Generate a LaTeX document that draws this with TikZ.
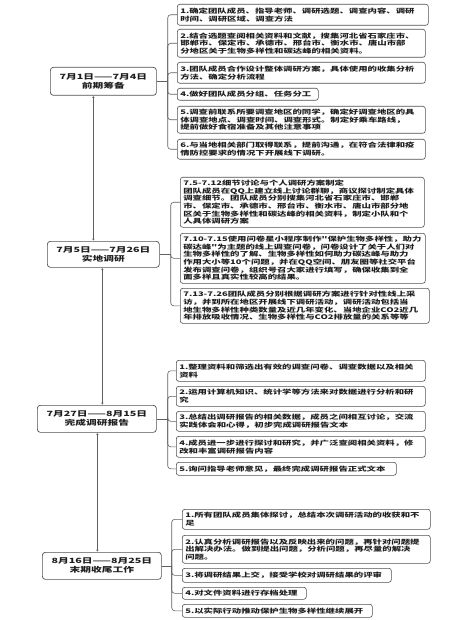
\documentclass[tikz,border=0pt]{standalone}
\usepackage{fontspec}
\newfontfamily\cjk[FakeStretch=1.49]{Noto Sans CJK SC}
\usetikzlibrary{arrows.meta}
\newcommand\itemfont{\cjk\bfseries\fontsize{6.3}{7.7}\selectfont}
\newcommand\stagefont{\cjk\bfseries\fontsize{7.2}{9}\selectfont}
\definecolor{boxc}{HTML}{505050}
\definecolor{linec}{HTML}{606060}
\definecolor{txtc}{HTML}{1E1E1E}
\tikzset{
 itembox/.style={draw=boxc, line width=0.6pt, rounded corners=2.5pt, anchor=north west, inner xsep=3pt, inner ysep=0pt, align=left, font=\itemfont, text=txtc},
 stagebox/.style={draw=boxc, line width=0.7pt, rounded corners=3pt, anchor=north west, inner sep=0pt, align=center, font=\stagefont, text=txtc},
 br/.style={draw=linec, line width=0.6pt, rounded corners=3pt},
 conn/.style={draw=linec, line width=0.7pt, {Stealth[length=1.8pt,width=2.4pt]}-{Stealth[length=1.8pt,width=2.4pt]}, shorten <=0.5pt, shorten >=0.5pt}
}
\begin{document}
\begin{tikzpicture}[x=1pt,y=-1pt]
\fill[white] (0,0) rectangle (459,620);
\useasboundingbox (0,0) rectangle (459,620);

% ---------- Stage 1 ----------
\node[stagebox, text width=106pt, minimum height=28pt] (S1) at (50,67) {7月1日——7月4日\\前期筹备};
\node[itembox, text width=245pt, minimum height=21pt] (A1) at (177,4) {1.确定团队成员、指导老师、调研选题、调查内容、调研\\时间、调研区域、调查方法};
\node[itembox, text width=242pt, minimum height=28pt] (A2) at (177,29) {2.结合选题查阅相关资料和文献，搜集河北省石家庄市、\\邯郸市、保定市、承德市、邢台市、衡水市、唐山市部\\分地区关于生物多样性和碳达峰的相关资料。};
\node[itembox, text width=242pt, minimum height=21pt] (A3) at (177,62) {3.团队成员合作设计整体调研方案，具体使用的收集分析\\方法、确定分析流程};
\node[itembox, text width=135pt, minimum height=12pt] (A4) at (177,88) {4.做好团队成员分组、任务分工};
\node[itembox, text width=242pt, minimum height=27pt] (A5) at (177,106) {5.调查前联系所要调查地区的同学，确定好调查地区的具\\体调查地点、调查时间、调查形式。制定好乘车路线，\\提前做好食宿准备及其他注意事项};
\node[itembox, text width=242pt, minimum height=20pt] (A6) at (177,139) {6.与当地相关部门取得联系，提前沟通，在符合法律和疫\\情防控要求的情况下开展线下调研。};
\coordinate (t1) at ([xshift=11pt]S1.east);
\draw[br] (S1.east) -- (t1);
\foreach \n in {A1,A2,A3,A4,A5,A6} \draw[br] (t1) |- (\n.west);

% ---------- Stage 2 ----------
\node[stagebox, text width=112pt, minimum height=26pt] (S2) at (47,241) {7月5日——7月26日\\实地调研};
\node[itembox, text width=238pt, minimum height=50pt] (B1) at (180,177) {7.5-7.12细节讨论与个人调研方案制定\\团队成员在QQ上建立线上讨论群聊，商议探讨制定具体\\调查细节。团队成员分别搜集河北省石家庄市、邯郸\\市、保定市、承德市、邢台市、衡水市、唐山市部分地\\区关于生物多样性和碳达峰的相关资料，制定小队和个\\人具体调研方案};
\node[itembox, text width=239pt, minimum height=50pt] (B2) at (180,233) {7.10-7.15使用问卷星小程序制作"保护生物多样性，助力\\碳达峰"为主题的线上调查问卷，问卷设计了关于人们对\\生物多样性的了解、生物多样性如何助力碳达峰与助力\\作用大小等10个问题，并在QQ空间、朋友圈等社交平台\\发布调查问卷，组织号召大家进行填写，确保收集到全\\面多样且真实性较高的结果。};
\node[itembox, text width=243pt, minimum height=35pt] (B3) at (180,288) {7.13-7.26团队成员分别根据调研方案进行针对性线上采\\访，并到所在地区开展线下调研活动，调研活动包括当\\地生物多样性种类数量及近几年变化、当地企业CO2近几\\年排放吸收情况、生物多样性与CO2排放量的关系等等};
\coordinate (t2) at ([xshift=11pt]S2.east);
\draw[br] (S2.east) -- (t2);
\foreach \n in {B1,B2,B3} \draw[br] (t2) |- (\n.west);

% ---------- Stage 3 ----------
\node[stagebox, text width=119pt, minimum height=27pt] (S3) at (37,405) {7月27日——8月15日\\完成调研报告};
\node[itembox, text width=243pt, minimum height=21pt] (C1) at (176,360) {1.整理资料和筛选出有效的调查问卷、调查数据以及相关\\资料};
\node[itembox, text width=243pt, minimum height=20pt] (C2) at (176,386) {2.运用计算机知识、统计学等方法来对数据进行分析和研\\究};
\node[itembox, text width=243pt, minimum height=20pt] (C3) at (176,411) {3.总结出调研报告的相关数据，成员之间相互讨论，交流\\实践体会和心得，初步完成调研报告文本};
\node[itembox, text width=243pt, minimum height=21pt] (C4) at (176,436) {4.成员进一步进行探讨和研究，并广泛查阅相关资料，修\\改和丰富调研报告内容};
\node[itembox, text width=214pt, minimum height=13pt] (C5) at (176,462) {5.询问指导老师意见，最终完成调研报告正式文本};
\coordinate (t3) at ([xshift=11pt]S3.east);
\draw[br] (S3.east) -- (t3);
\foreach \n in {C1,C2,C3,C4,C5} \draw[br] (t3) |- (\n.west);

% ---------- Stage 4 ----------
\node[stagebox, text width=119pt, minimum height=27pt] (S4) at (42,552) {8月16日——8月25日\\末期收尾工作};
\node[itembox, text width=242pt, minimum height=20pt] (D1) at (182,509) {1.所有团队成员集体探讨，总结本次调研活动的收获和不\\足};
\node[itembox, text width=242pt, minimum height=28pt] (D2) at (182,535) {2.认真分析调研报告以及反映出来的问题，再针对问题提\\出解决办法。做到提出问题，分析问题，再尽量的解决\\问题。};
\node[itembox, text width=203pt, minimum height=14pt] (D3) at (182,568) {3.将调研结果上交，接受学校对调研结果的评审};
\node[itembox, text width=118pt, minimum height=12pt] (D4) at (182,587) {4.对文件资料进行存档处理};
\node[itembox, text width=184pt, minimum height=13pt] (D5) at (182,604) {5.以实际行动推动保护生物多样性继续展开};
\coordinate (t4) at ([xshift=10pt]S4.east);
\draw[br] (S4.east) -- (t4);
\foreach \n in {D1,D2,D3,D4,D5} \draw[br] (t4) |- (\n.west);

% ---------- stage connectors ----------
\draw[conn] ([xshift=-10pt]S1.south) -- ([xshift=-10pt]S1.south |- S2.north);
\draw[conn] ([xshift=-1pt]S2.south) -- ([xshift=-1pt]S2.south |- S3.north);
\draw[conn] ([xshift=0.5pt]S3.south) -- ([xshift=0.5pt]S3.south |- S4.north);
\end{tikzpicture}
\end{document}
